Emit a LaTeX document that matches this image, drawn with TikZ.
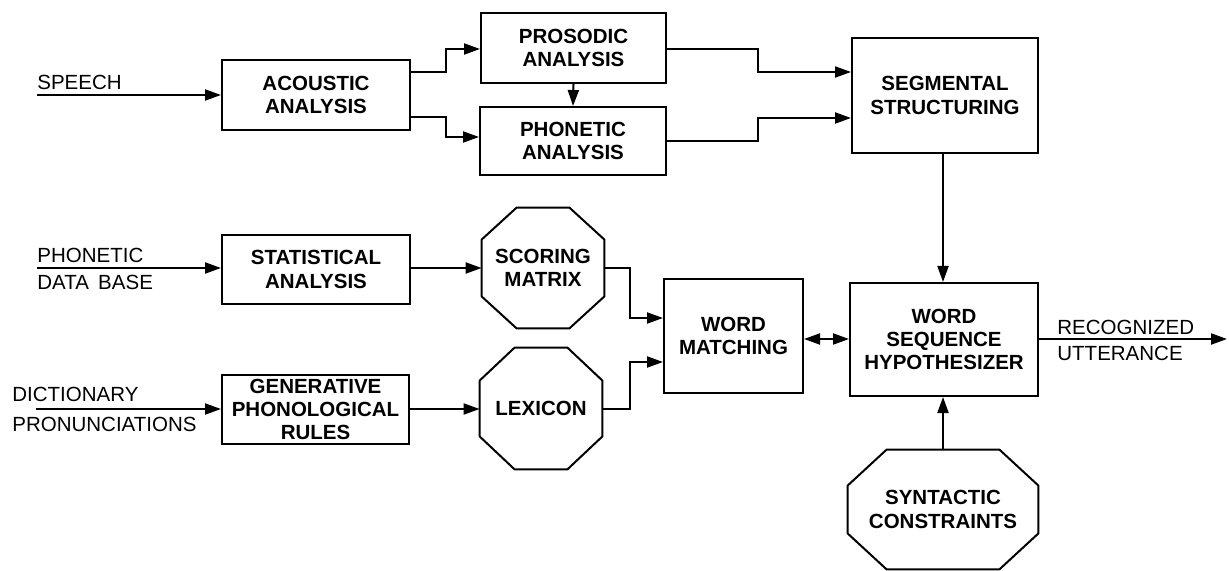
\documentclass[tikz,border=0pt]{standalone}
\usepackage{fontspec}
\setmainfont{Liberation Sans}
\usetikzlibrary{arrows.meta,calc}
\newcommand\octdraw[3]{%
  \draw[line width=1pt, line join=round]
    ($(#1.north west)+(#2,0)$) -- ($(#1.north east)+(-#2,0)$) --
    ($(#1.north east)+(0,#3)$) -- ($(#1.south east)+(0,-#3)$) --
    ($(#1.south east)+(-#2,0)$) -- ($(#1.south west)+(#2,0)$) --
    ($(#1.south west)+(0,-#3)$) -- ($(#1.north west)+(0,#3)$) -- cycle;}
\begin{document}
\begin{tikzpicture}[x=0.5pt,y=-0.5pt,
  every node/.style={font=\fontsize{10.25}{11.6}\selectfont},
  box/.style={draw, line width=1pt, inner sep=0pt, align=center,
    font=\bfseries\fontsize{10.25}{11.6}\selectfont},
  octn/.style={inner sep=0pt, align=center,
    font=\bfseries\fontsize{10.25}{11.6}\selectfont},
  lbl/.style={inner sep=0pt, anchor=base west},
  conn/.style={line width=1pt},
  tip/.style={},
  arr/.style={conn, -{Triangle[length=8pt,width=5.5pt]}},
  dblarr/.style={conn, {Triangle[length=8pt,width=5.5pt]}-{Triangle[length=8pt,width=5.5pt]}},
]
\useasboundingbox (0,0) rectangle (1229,571);

% boxes
\node[box, minimum width=94pt, minimum height=35pt] (ac) at (316,95) {ACOUSTIC\\ANALYSIS};
\node[box, minimum width=92.5pt, minimum height=35pt] (pr) at (573.5,48) {PROSODIC\\ANALYSIS};
\node[box, minimum width=93pt, minimum height=34pt] (ph) at (573,141) {PHONETIC\\ANALYSIS};
\node[box, minimum width=93pt, minimum height=57.5pt] (sg) at (945,95.5) {SEGMENTAL\\STRUCTURING};
\node[box, minimum width=94pt, minimum height=34.5pt] (st) at (316,269.5) {STATISTICAL\\ANALYSIS};
\node[octn, minimum width=61pt, minimum height=60pt] (sc) at (543,268) {SCORING\\MATRIX};
\node[box, minimum width=93.5pt, minimum height=34.5pt] (ge) at (315.5,409.5) {GENERATIVE\\PHONOLOGICAL\\RULES};
\node[octn, minimum width=61pt, minimum height=60.5pt] (lx) at (541,408.5) {LEXICON};
\node[box, minimum width=69.5pt, minimum height=57pt] (wm) at (733.5,336) {WORD\\MATCHING};
\node[box, minimum width=94pt, minimum height=56.5pt] (ws) at (944,339.5) {WORD\\SEQUENCE\\HYPOTHESIZER};
\node[octn, minimum width=95pt, minimum height=59.5pt] (sy) at (943,509.5) {SYNTACTIC\\CONSTRAINTS};

\octdraw{sc}{35}{32}
\octdraw{lx}{35}{33}
\octdraw{sy}{39}{36}

% labels
\node[lbl] (sp) at (37,90) {SPEECH};
\node[lbl] (pd1) at (37,263) {PHONETIC};
\node[lbl] (pd2) at (37,290) {DATA\hspace{0.45em}BASE};
\node[lbl] (dc1) at (12,401) {DICTIONARY};
\node[lbl] (dc2) at (12,431) {PRONUNCIATIONS};
\node[lbl] (ru1) at (1057,334) {RECOGNIZED};
\node[lbl] (ru2) at (1057,360) {UTTERANCE};

\coordinate (spin) at (37,95);
\coordinate (pdin) at (37,268);
\coordinate (dcin) at (36,409);
\coordinate (out) at (1227,339);

% connectors
\draw[arr] (spin) -- (ac.west |- spin);
\draw[arr] (ac.east |- 0,72) -- (446,72) |- (pr.west |- 0,49);
\draw[arr] (ac.east |- 0,117) -- (446,117) |- (ph.west |- 0,137);
\draw[arr] (pr.south) -- (ph.north);
\draw[arr] (pr.east |- 0,49) -- (758,49) |- (sg.west |- 0,72);
\draw[arr] (ph.east |- 0,141) -- (758,141) |- (sg.west |- 0,118);
\draw[arr] (sg.south -| 943,0) -- (ws.north -| 943,0);
\draw[arr] (pdin) -- (st.west |- pdin);
\draw[arr] (st.east |- 0,268) -- (sc.west |- 0,268);
\draw[arr] (sc.east |- 0,268) -- (630,268) |- (wm.west |- 0,318);
\draw[arr] (dcin) -- (ge.west |- dcin);
\draw[arr] (ge.east |- 0,409) -- (lx.west |- 0,409);
\draw[arr] (lx.east |- 0,409) -- (630,409) |- (wm.west |- 0,362);
\draw[dblarr] (wm.east |- 0,339) -- (ws.west |- 0,339);
\draw[arr] (ws.east |- 0,339) -- (out);
\draw[arr] (sy.north -| 943,0) -- (ws.south -| 943,0);
\end{tikzpicture}
\end{document}
